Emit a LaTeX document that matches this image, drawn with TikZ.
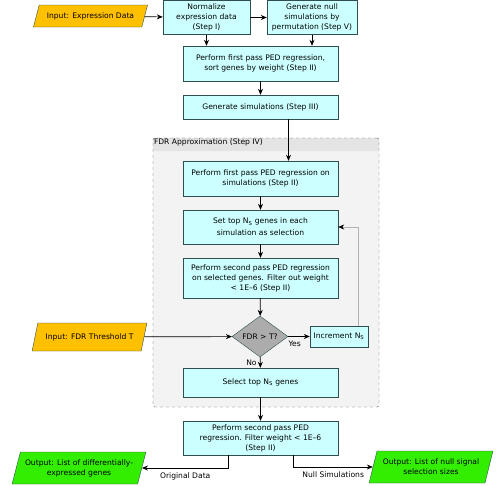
\documentclass[tikz,border=0pt]{standalone}
\usepackage{fontspec}
\setmainfont{DejaVu Sans}
\usepackage{xcolor}
\usetikzlibrary{arrows.meta,shapes.geometric,calc}
\definecolor{boxfill}{HTML}{CCFFFF}
\definecolor{boxline}{HTML}{2F4F4F}
\definecolor{infill}{HTML}{FFC000}
\definecolor{outfill}{HTML}{33EE00}
\definecolor{grpfill}{HTML}{F3F3F3}
\definecolor{grphead}{HTML}{E4E4E4}
\begin{document}
\begin{tikzpicture}[x=1pt,y=-1pt,font=\fontsize{7.6}{10}\selectfont,
  proc/.style={rectangle,draw=boxline,fill=boxfill,align=center,inner sep=1pt,minimum width=155pt},
  io/.style={trapezium,trapezium left angle=62,trapezium right angle=118,trapezium stretches=true,draw=boxline,align=center,inner sep=1pt},
  outio/.style={io,fill=outfill,trapezium left angle=68,trapezium right angle=112},
  decision/.style={diamond,draw=boxline,fill=gray!65,inner sep=0pt,minimum width=56pt,minimum height=33pt},
  group/.style={rectangle,draw=gray!70!black,dashed,fill=grpfill,rounded corners=2pt,
    path picture={\fill[grphead] (path picture bounding box.north west) rectangle ([yshift=-13pt]path picture bounding box.north east);}},
  line/.style={draw,line width=0.7pt,-{Stealth[length=6pt,width=5pt]}}]
  \useasboundingbox (0,0) rectangle (500,485);
  \node[group,minimum width=226pt,minimum height=269pt] (grp) at (266,272.5) {};
  \node[anchor=north west,inner sep=1pt] (grptitle) at (grp.north west) {FDR Approximation (Step IV)};

  \node[io,fill=infill,minimum width=115pt,minimum height=22pt] (in) at (90.5,16) {Input: Expression Data};
  \node[proc,minimum width=87pt,minimum height=34pt] (norm) at (206.5,17.5) {Normalize\\expression data\\(Step I)};
  \node[proc,minimum width=90pt,minimum height=34pt] (gennull) at (312,17.5) {Generate null\\simulations by\\permutation (Step V)};
  \node[proc,minimum height=35pt] (pfp) at (260.5,63.5) {Perform first pass PED regression,\\sort genes by weight (Step II)};
  \node[proc,minimum height=24pt] (gensim) at (260.5,107) {Generate simulations (Step III)};
  \node[proc,minimum height=35pt] (pfpsim) at (260.5,178.5) {Perform first pass PED regression on\\simulations (Step II)};
  \node[proc,minimum height=34pt] (settop) at (260.5,227) {Set top N\textsubscript{S} genes in each\\[2pt]simulation as selection};
  \node[proc,minimum height=40pt] (spp) at (260.5,278) {Perform second pass PED regression\\on selected genes. Filter out weight\\< 1E--6 (Step II)};
  \node[decision] (fdr) at (260,336.5) {FDR > T?};
  \node[proc,minimum width=58pt,minimum height=21pt] (incr) at (339,336.5) {Increment N\textsubscript{S}};
  \node[io,fill=infill,minimum width=115pt,minimum height=28pt] (thr) at (89.5,337) {Input: FDR Threshold T};
  \node[proc,minimum height=29pt] (sel) at (260.5,382.5) {Select top N\textsubscript{S} genes};
  \node[proc,minimum height=34pt] (final) at (260.5,438) {Perform second pass PED\\regression. Filter weight < 1E--6\\(Step II)};
  \node[outio,minimum width=134pt,minimum height=32pt] (outde) at (79,468) {Output: List of differentially-\\expressed genes};
  \node[outio,minimum width=124pt,minimum height=32pt] (outnull) at (431,467) {Output: List of null signal\\selection sizes};

  \draw[line] (in) -- (norm);
  \draw[line] (norm) -- (gennull);
  \draw[line] (norm.south) -- (norm.south |- pfp.north);
  \draw[line] (gennull.south) -- (gennull.south |- pfp.north);
  \draw[line] (pfp) -- (gensim);
  \coordinate (gsout) at ($(gensim.south)+(28,0)$);
  \draw[line] (gsout) -- (gsout |- pfpsim.north);
  \draw[line] (pfpsim) -- (settop);
  \draw[line] (settop) -- (spp);
  \draw[line] (spp) -- (fdr);
  \draw[line] (thr) -- (fdr);
  \draw[line] (fdr) -- node[pos=0.3,below=1pt]{Yes} (incr);
  \coordinate (incrout) at ($(incr.north)+(19,0)$);
  \draw[line,gray!60,line width=0.5pt,-{Stealth[length=6pt,width=5pt,black]}] (incrout) |- (settop.east);
  \draw[line] (fdr) -- node[midway,left]{No} (sel);
  \draw[line] (sel) -- (final);
  \coordinate (origout) at ($(final.south)+(-32,0)$);
  \coordinate (nullout) at ($(final.south)+(33,0)$);
  \draw[line] (origout) |- node[pos=0.75,below=1pt]{Original Data} (outde.east);
  \draw[line] (nullout) |- node[pos=0.75,below=1pt]{Null Simulations} (outnull.west);
\end{tikzpicture}
\end{document}
